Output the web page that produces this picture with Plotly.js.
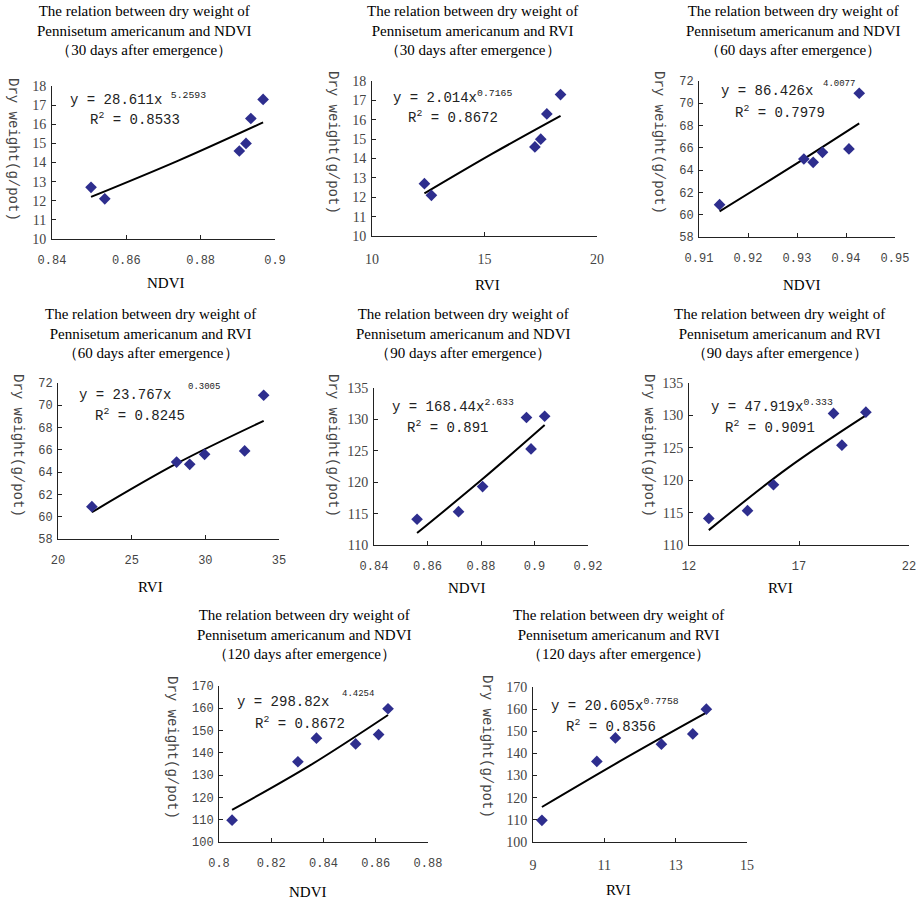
<!DOCTYPE html>
<html>
<head>
<meta charset="utf-8">
<script src="https://cdn.plot.ly/plotly-3.0.1.min.js"></script>
<style>html,body{margin:0;padding:0;background:#fff;}#chart{width:917px;height:901px;}</style>
</head>
<body>
<div id="chart"></div>
<script>
// ---------- data ----------
// 30 days, NDVI
const ndvi30 = [0.8505, 0.8542, 0.8904, 0.8922, 0.8935, 0.8968];
const dw30a = [12.7, 12.1, 14.6, 15.0, 16.3, 17.3];
const fitNdvi30X = [0.8505, 0.874, 0.8968];
const fitNdvi30Y = [12.2, 14.1, 16.1];
// 30 days, RVI
const rvi30 = [12.33, 12.64, 17.24, 17.50, 17.77, 18.38];
const dw30b = [12.7, 12.1, 14.6, 15.0, 16.3, 17.3];
const fitRvi30X = [12.33, 15.35, 18.38];
const fitRvi30Y = [12.2, 14.25, 16.2];
// 60 days, NDVI
const ndvi60 = [0.9142, 0.9314, 0.9333, 0.9352, 0.9406, 0.9427];
const dw60a = [60.9, 65.0, 64.7, 65.6, 65.9, 70.9];
const fitNdvi60X = [0.9142, 0.9285, 0.9427];
const fitNdvi60Y = [60.3, 64.2, 68.2];
// 60 days, RVI
const rvi60 = [22.3, 28.05, 28.94, 29.95, 32.67, 33.96];
const dw60b = [60.9, 64.9, 64.7, 65.6, 65.9, 70.9];
const fitRvi60X = [22.3, 28.1, 33.96];
const fitRvi60Y = [60.4, 64.8, 68.6];
// 90 days, NDVI
const ndvi90 = [0.8561, 0.8716, 0.8806, 0.8970, 0.8987, 0.9038];
const dw90a = [114.1, 115.3, 119.3, 130.3, 125.3, 130.5];
const fitNdvi90X = [0.8561, 0.88, 0.9038];
const fitNdvi90Y = [111.9, 120.3, 129.1];
// 90 days, RVI
const rvi90 = [12.90, 14.66, 15.84, 18.57, 18.95, 20.04];
const dw90b = [114.1, 115.3, 119.3, 130.3, 125.4, 130.5];
const fitRvi90X = [12.9, 16.5, 20.04];
const fitRvi90Y = [112.3, 121.9, 130.0];
// 120 days, NDVI
const ndvi120 = [0.8050, 0.8302, 0.8373, 0.8523, 0.8611, 0.8647];
const dw120a = [109.8, 136.0, 146.6, 144.0, 148.2, 159.8];
const fitNdvi120X = [0.805, 0.835, 0.8647];
const fitNdvi120Y = [114.4, 134.5, 157.0];
// 120 days, RVI
const rvi120 = [9.25, 10.79, 11.31, 12.60, 13.48, 13.86];
const dw120b = [109.8, 136.4, 147.0, 144.2, 148.8, 160.0];
const fitRvi120X = [9.25, 11.55, 13.86];
const fitRvi120Y = [115.8, 137.5, 158.4];

// tick values / labels
const xTicksNdvi30 = [0.84, 0.86, 0.88, 0.9];
const xLabelsNdvi30 = ["0.84", "0.86", "0.88", "0.9"];
const xTicksRvi30 = [10, 15, 20];
const xTicksNdvi60 = [0.91, 0.92, 0.93, 0.94, 0.95];
const xLabelsNdvi60 = ["0.91", "0.92", "0.93", "0.94", "0.95"];
const xTicksRvi60 = [20, 25, 30, 35];
const xTicksNdvi90 = [0.84, 0.86, 0.88, 0.9, 0.92];
const xLabelsNdvi90 = ["0.84", "0.86", "0.88", "0.9", "0.92"];
const xTicksRvi90 = [12, 17, 22];
const xTicksNdvi120 = [0.8, 0.82, 0.84, 0.86, 0.88];
const xLabelsNdvi120 = ["0.8", "0.82", "0.84", "0.86", "0.88"];
const xTicksRvi120 = [9, 11, 13, 15];
const yTicks30 = [10, 11, 12, 13, 14, 15, 16, 17, 18];
const yTicks60 = [58, 60, 62, 64, 66, 68, 70, 72];
const yTicks90 = [110, 115, 120, 125, 130, 135];
const yTicks120 = [100, 110, 120, 130, 140, 150, 160, 170];

// equation texts
const eqMain = ["y = 28.611x", "y = 2.014x", "y = 86.426x", "y = 23.767x", "y = 168.44x", "y = 47.919x", "y = 298.82x", "y = 20.605x"];
const eqExp = ["5.2593", "0.7165", "4.0077", "0.3005", "2.633", "0.333", "4.4254", "0.7758"];
const eqR2 = ["0.8533", "0.8672", "0.7979", "0.8245", "0.891", "0.9091", "0.8672", "0.8356"];
const indexNames = ["NDVI", "RVI", "NDVI", "RVI", "NDVI", "RVI", "NDVI", "RVI"];
const dayNames = ["30", "30", "60", "60", "90", "90", "120", "120"];
const yTitle = "Dry weight(g/pot)";

// ---------- layout helpers ----------
const W = 917, H = 901;
const px = v => v / W;
const py = v => 1 - v / H;

const SERIF = "Liberation Serif";
const MONO = "Liberation Mono";

const panels = [
  {x: ndvi30, y: dw30a, fx: fitNdvi30X, fy: fitNdvi30Y, xr: [0.84, 0.9], yr: [10, 18], xt: xTicksNdvi30, xl: xLabelsNdvi30, yt: yTicks30, xf: MONO, yf: SERIF,
   box: [52, 275, 86, 239], title: [144, 30], xtitle: [166, 283], ytitle: [13, 149], eq: [68, 99], sup: null, r2: [88, 119], supSep: true},
  {x: rvi30, y: dw30b, fx: fitRvi30X, fy: fitRvi30Y, xr: [10, 20], yr: [10, 18], xt: xTicksRvi30, xl: null, yt: yTicks30, xf: SERIF, yf: SERIF,
   box: [372, 597, 81, 236], title: [472, 30], xtitle: [487, 285], ytitle: [333, 142], eq: [391, 97], sup: null, r2: [406, 117], supSep: false},
  {x: ndvi60, y: dw60a, fx: fitNdvi60X, fy: fitNdvi60Y, xr: [0.91, 0.95], yr: [58, 72], xt: xTicksNdvi60, xl: xLabelsNdvi60, yt: yTicks60, xf: MONO, yf: MONO,
   box: [699, 895, 81, 237], title: [793, 30], xtitle: [802, 285], ytitle: [659, 142], eq: [719, 91], sup: [821, 84], r2: [733, 112]},
  {x: rvi60, y: dw60b, fx: fitRvi60X, fy: fitRvi60Y, xr: [20, 35], yr: [58, 72], xt: xTicksRvi60, xl: null, yt: yTicks60, xf: MONO, yf: MONO,
   box: [58, 279, 383, 539], title: [150, 333], xtitle: [150, 587], ytitle: [18, 445], eq: [77, 395], sup: [186, 387], r2: [93, 415]},
  {x: ndvi90, y: dw90a, fx: fitNdvi90X, fy: fitNdvi90Y, xr: [0.84, 0.92], yr: [110, 135], xt: xTicksNdvi90, xl: xLabelsNdvi90, yt: yTicks90, xf: MONO, yf: SERIF,
   box: [374, 588, 388, 545], title: [463, 333], xtitle: [467, 588], ytitle: [333, 445], eq: [390, 406], sup: null, r2: [405, 427], supSep: false},
  {x: rvi90, y: dw90b, fx: fitRvi90X, fy: fitRvi90Y, xr: [12, 22], yr: [110, 135], xt: xTicksRvi90, xl: null, yt: yTicks90, xf: MONO, yf: SERIF,
   box: [689, 909, 383, 545], title: [779, 333], xtitle: [780, 588], ytitle: [649, 445], eq: [709, 406], sup: null, r2: [723, 427], supSep: false},
  {x: ndvi120, y: dw120a, fx: fitNdvi120X, fy: fitNdvi120Y, xr: [0.8, 0.88], yr: [100, 170], xt: xTicksNdvi120, xl: xLabelsNdvi120, yt: yTicks120, xf: MONO, yf: MONO,
   box: [219, 428, 686, 842], title: [304, 634], xtitle: [308, 892], ytitle: [172, 747], eq: [235, 702], sup: [340, 694], r2: [253, 723]},
  {x: rvi120, y: dw120b, fx: fitRvi120X, fy: fitRvi120Y, xr: [9, 15], yr: [100, 170], xt: xTicksRvi120, xl: null, yt: yTicks120, xf: SERIF, yf: SERIF,
   box: [533, 747, 687, 842], title: [618, 634], xtitle: [618, 890], ytitle: [487, 746], eq: [549, 705], sup: null, r2: [564, 726], supSep: false}
];

const traces = [];
const layout = {
  width: W, height: H,
  margin: {l: 0, r: 0, t: 0, b: 0},
  paper_bgcolor: "#ffffff", plot_bgcolor: "rgba(0,0,0,0)",
  showlegend: false,
  font: {family: SERIF, size: 13, color: "#222"},
  annotations: []
};

panels.forEach((p, i) => {
  const n = i === 0 ? "" : String(i + 1);
  const xa = "x" + n, ya = "y" + n;
  traces.push({
    type: "scatter", mode: "lines", x: p.fx, y: p.fy, xaxis: xa, yaxis: ya,
    line: {color: "#000000", width: 2, shape: "spline"}, hoverinfo: "skip", cliponaxis: false
  });
  traces.push({
    type: "scatter", mode: "markers", x: p.x, y: p.y, xaxis: xa, yaxis: ya,
    marker: {symbol: "diamond", size: 9, color: "#2e2e8e", line: {width: 0}}, cliponaxis: false
  });
  const axCommon = {
    showgrid: false, zeroline: false, showline: true, linecolor: "#222", linewidth: 1,
    ticks: "inside", ticklen: 4, tickcolor: "#222", tickwidth: 1, fixedrange: true
  };
  layout["xaxis" + n] = Object.assign({}, axCommon, {
    domain: [px(p.box[0]), px(p.box[1])], anchor: ya, range: p.xr,
    tickmode: "array", tickvals: p.xt, ticktext: p.xl ? p.xl : p.xt.map(String),
    tickfont: {family: p.xf, size: p.xf === MONO ? 12 : 14, color: "#444"},
    ticklabelstandoff: 10
  });
  layout["yaxis" + n] = Object.assign({}, axCommon, {
    domain: [py(p.box[3]), py(p.box[2])], anchor: xa, range: p.yr,
    tickmode: "array", tickvals: p.yt, ticktext: p.yt.map(String),
    tickfont: {family: p.yf, size: p.yf === MONO ? 12 : 14, color: "#444"},
    ticklabelstandoff: 2
  });
  const A = layout.annotations;
  const base = {xref: "paper", yref: "paper", showarrow: false};
  A.push(Object.assign({}, base, {
    x: px(p.title[0]), y: py(p.title[1]), xanchor: "center", yanchor: "middle",
    text: "The relation between dry weight of<br>Pennisetum americanum and " + indexNames[i] +
          "<br>\uFF08" + dayNames[i] + " days after emergence\uFF09",
    font: {family: SERIF, size: 15, color: "#000"}
  }));
  A.push(Object.assign({}, base, {
    x: px(p.xtitle[0]), y: py(p.xtitle[1]), xanchor: "center", yanchor: "middle",
    text: indexNames[i], font: {family: SERIF, size: 15, color: "#000"}
  }));
  A.push(Object.assign({}, base, {
    x: px(p.ytitle[0]), y: py(p.ytitle[1]), xanchor: "center", yanchor: "middle",
    textangle: 90, text: yTitle, font: {family: MONO, size: 14, color: "#444"}
  }));
  const eqText = p.sup ? eqMain[i] : eqMain[i] + (p.supSep ? "\u00a0" : "") + "<sup>" + eqExp[i] + "</sup>";
  A.push(Object.assign({}, base, {
    x: px(p.eq[0]), y: py(p.eq[1]), xanchor: "left", yanchor: "middle",
    text: eqText, font: {family: MONO, size: 14, color: "#222"}
  }));
  if (p.sup) {
    A.push(Object.assign({}, base, {
      x: px(p.sup[0]), y: py(p.sup[1]), xanchor: "left", yanchor: "middle",
      text: eqExp[i], font: {family: MONO, size: 9, color: "#222"}
    }));
  }
  A.push(Object.assign({}, base, {
    x: px(p.r2[0]), y: py(p.r2[1]), xanchor: "left", yanchor: "middle",
    text: "R<sup>2</sup> = " + eqR2[i], font: {family: MONO, size: 14, color: "#222"}
  }));
});

Plotly.newPlot("chart", traces, layout, {displayModeBar: false, staticPlot: true});
</script>
</body>
</html>
